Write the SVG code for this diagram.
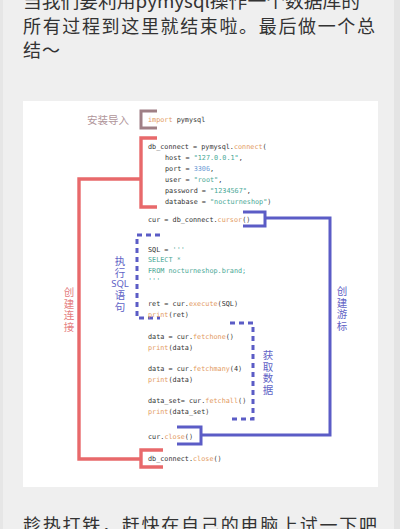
<svg xmlns="http://www.w3.org/2000/svg" width="400" height="529" viewBox="0 0 400 529">
<style>
.page{font-family:"Noto Sans CJK SC","Noto Sans",sans-serif;font-size:18px;fill:#333}
.code{font-family:"DejaVu Sans Mono","Liberation Mono",monospace;font-size:6.8px;fill:#333}
.fn{fill:#e39a62}
.str{fill:#4aa896}
.num{fill:#6a9ad6}
.lbl{font-family:"Noto Sans CJK SC","Noto Sans",sans-serif;font-size:10.5px;text-anchor:middle}
.vl{font-family:"Noto Sans CJK SC","Noto Sans",sans-serif;font-size:10.5px;writing-mode:vertical-rl;letter-spacing:1px}
.red{stroke:#e8696b;stroke-width:3.4;fill:none}
.blue{stroke:#5b5cc6;stroke-width:3;fill:none}
.dash{stroke:#5b5cc6;stroke-width:3;fill:none;stroke-dasharray:5 4}
.mauve{stroke:#9f7f85;stroke-width:3;fill:none}
</style>
<rect width="400" height="529" fill="#efefef"/>
<rect x="0" y="0" width="3" height="529" fill="#e6e6e6"/>
<rect x="394" y="0" width="6" height="529" fill="#e4e4e4"/>
<text class="page" x="23" y="8" textLength="337" lengthAdjust="spacingAndGlyphs">当我们要利用pymysql操作一个数据库的</text>
<text class="page" x="23" y="33" textLength="352" lengthAdjust="spacing">所有过程到这里就结束啦。最后做一个总</text>
<text class="page" x="23" y="57" textLength="37" lengthAdjust="spacing">结～</text>
<rect x="23" y="101" width="355" height="386" fill="#ffffff"/>
<text class="page" x="23" y="532" textLength="354" lengthAdjust="spacing">趁热打铁，赶快在自己的电脑上试一下吧</text>

<g id="connectors">
<path class="mauve" d="M157 111 H141 V128 H157"/>
<path class="red" d="M157 138 H141 V207 H157 M141 179 H79 V459 H141 M163 450 H141 V467 H163"/>
<path class="blue" d="M243 212 H265 V226 H243 M265 218 H330 V435 H201 M177 427 H201 V444 H177"/>
<path class="dash" d="M160 235 H137 V318 H160"/>
<path class="dash" d="M230 323 H253 V419 H230"/>
</g>

<g id="label-install"><text class="lbl" x="108" y="124" fill="#b0959a">安装导入</text></g>
<g id="label-connect"><text class="vl" x="69" y="287" fill="#e58082">创建连接</text></g>
<g id="label-sql" fill="#6163c6">
<text class="vl" x="120" y="256">执行</text>
<text class="lbl" x="120" y="287" style="font-family:'Noto Sans',sans-serif;font-size:9.5px">SQL</text>
<text class="vl" x="120" y="290">语句</text>
</g>
<g id="label-cursor"><text class="vl" x="342" y="286" fill="#6163c6">创建游标</text></g>
<g id="label-fetch"><text class="vl" x="268" y="350" fill="#6163c6">获取数据</text></g>

<g id="code-import"><text class="code" x="148" y="122"><tspan class="fn">import</tspan> pymysql</text></g>
<g id="code-connect">
<text class="code" x="148" y="149">db_connect = pymysql.<tspan class="fn">connect</tspan>(</text>
<text class="code" x="165" y="160">host = <tspan class="str">"127.0.0.1"</tspan>,</text>
<text class="code" x="165" y="171">port = <tspan class="num">3306</tspan>,</text>
<text class="code" x="165" y="182">user = <tspan class="str">"root"</tspan>,</text>
<text class="code" x="165" y="193">password = <tspan class="str">"1234567"</tspan>,</text>
<text class="code" x="165" y="204">database = <tspan class="str">"nocturneshop"</tspan>)</text>
</g>
<g id="code-cursor"><text class="code" x="148" y="222">cur = db_connect.<tspan class="fn">cursor</tspan>()</text></g>
<g id="code-sql">
<text class="code" x="148" y="252">SQL = <tspan class="str">'''</tspan></text>
<text class="code str" x="148" y="262">SELECT *</text>
<text class="code str" x="148" y="273">FROM nocturneshop.brand;</text>
<text class="code str" x="148" y="283">'''</text>
<text class="code" x="148" y="306">ret = cur.<tspan class="fn">execute</tspan>(SQL)</text>
<text class="code" x="148" y="317"><tspan class="fn">print</tspan>(ret)</text>
</g>
<g id="code-fetch">
<text class="code" x="148" y="339">data = cur.<tspan class="fn">fetchone</tspan>()</text>
<text class="code" x="148" y="350"><tspan class="fn">print</tspan>(data)</text>
<text class="code" x="148" y="371">data = cur.<tspan class="fn">fetchmany</tspan>(4)</text>
<text class="code" x="148" y="382"><tspan class="fn">print</tspan>(data)</text>
<text class="code" x="148" y="403">data_set= cur.<tspan class="fn">fetchall</tspan>()</text>
<text class="code" x="148" y="414"><tspan class="fn">print</tspan>(data_set)</text>
</g>
<g id="code-curclose"><text class="code" x="148" y="439">cur.<tspan class="fn">close</tspan>()</text></g>
<g id="code-dbclose"><text class="code" x="148" y="461">db_connect.<tspan class="fn">close</tspan>()</text></g>
</svg>
